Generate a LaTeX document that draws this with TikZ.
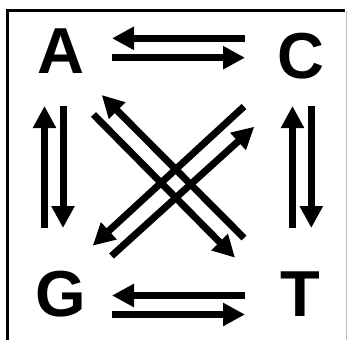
\documentclass[tikz,border=0pt]{standalone}
\usepackage{fontspec}
\setmainfont{Liberation Sans}
\usetikzlibrary{arrows.meta}

\begin{document}
\begin{tikzpicture}[x=1pt,y=-1pt,line width=7pt,
  base/.style={inner sep=0pt,font=\fontsize{65}{65}\selectfont\bfseries},
  flow/.style={-{Triangle[length=22pt,width=22pt]}}]
\path[use as bounding box] (0,0) rectangle (348,340);
% frame
\draw[line width=3pt] (7,340) -- (7,10.5) -- (345,10.5);
\draw[gray!50,line width=1pt] (346.5,10.5) -- (346.5,340);
% bases
\node[base] (A) at (60.5,51.5) {A};
\node[base] (C) at (301,56) {C};
\node[base] (G) at (61,293.8) {G};
\node[base] (T) at (300,293.7) {T};
% arrow ends
\coordinate (CA1) at (245,38.3);  \coordinate (CA2) at (112,38.3);
\coordinate (AC1) at (112,57.7);  \coordinate (AC2) at (245,57.7);
\coordinate (TG1) at (245,295.5); \coordinate (TG2) at (112,295.5);
\coordinate (GT1) at (112,314.5); \coordinate (GT2) at (245,314.5);
\coordinate (GA1) at (44.5,228);  \coordinate (GA2) at (44.5,106);
\coordinate (AG1) at (63,106);    \coordinate (AG2) at (63,228);
\coordinate (TC1) at (292.5,228); \coordinate (TC2) at (292.5,106);
\coordinate (CT1) at (311.3,106); \coordinate (CT2) at (311.3,228);
\coordinate (AT1) at (93.5,114.5); \coordinate (AT2) at (235,257.7);
\coordinate (TA1) at (244,238);    \coordinate (TA2) at (101.7,95);
\coordinate (CG1) at (244,106.5);  \coordinate (CG2) at (92.7,245.7);
\coordinate (GC1) at (111.5,256);  \coordinate (GC2) at (254.3,126.7);
% transitions and transversions
\draw[flow] (CA1) -- (CA2);
\draw[flow] (AC1) -- (AC2);
\draw[flow] (TG1) -- (TG2);
\draw[flow] (GT1) -- (GT2);
\draw[flow] (GA1) -- (GA2);
\draw[flow] (AG1) -- (AG2);
\draw[flow] (TC1) -- (TC2);
\draw[flow] (CT1) -- (CT2);
\draw[flow] (AT1) -- (AT2);
\draw[flow] (TA1) -- (TA2);
\draw[flow] (CG1) -- (CG2);
\draw[flow] (GC1) -- (GC2);
\end{tikzpicture}
\end{document}
